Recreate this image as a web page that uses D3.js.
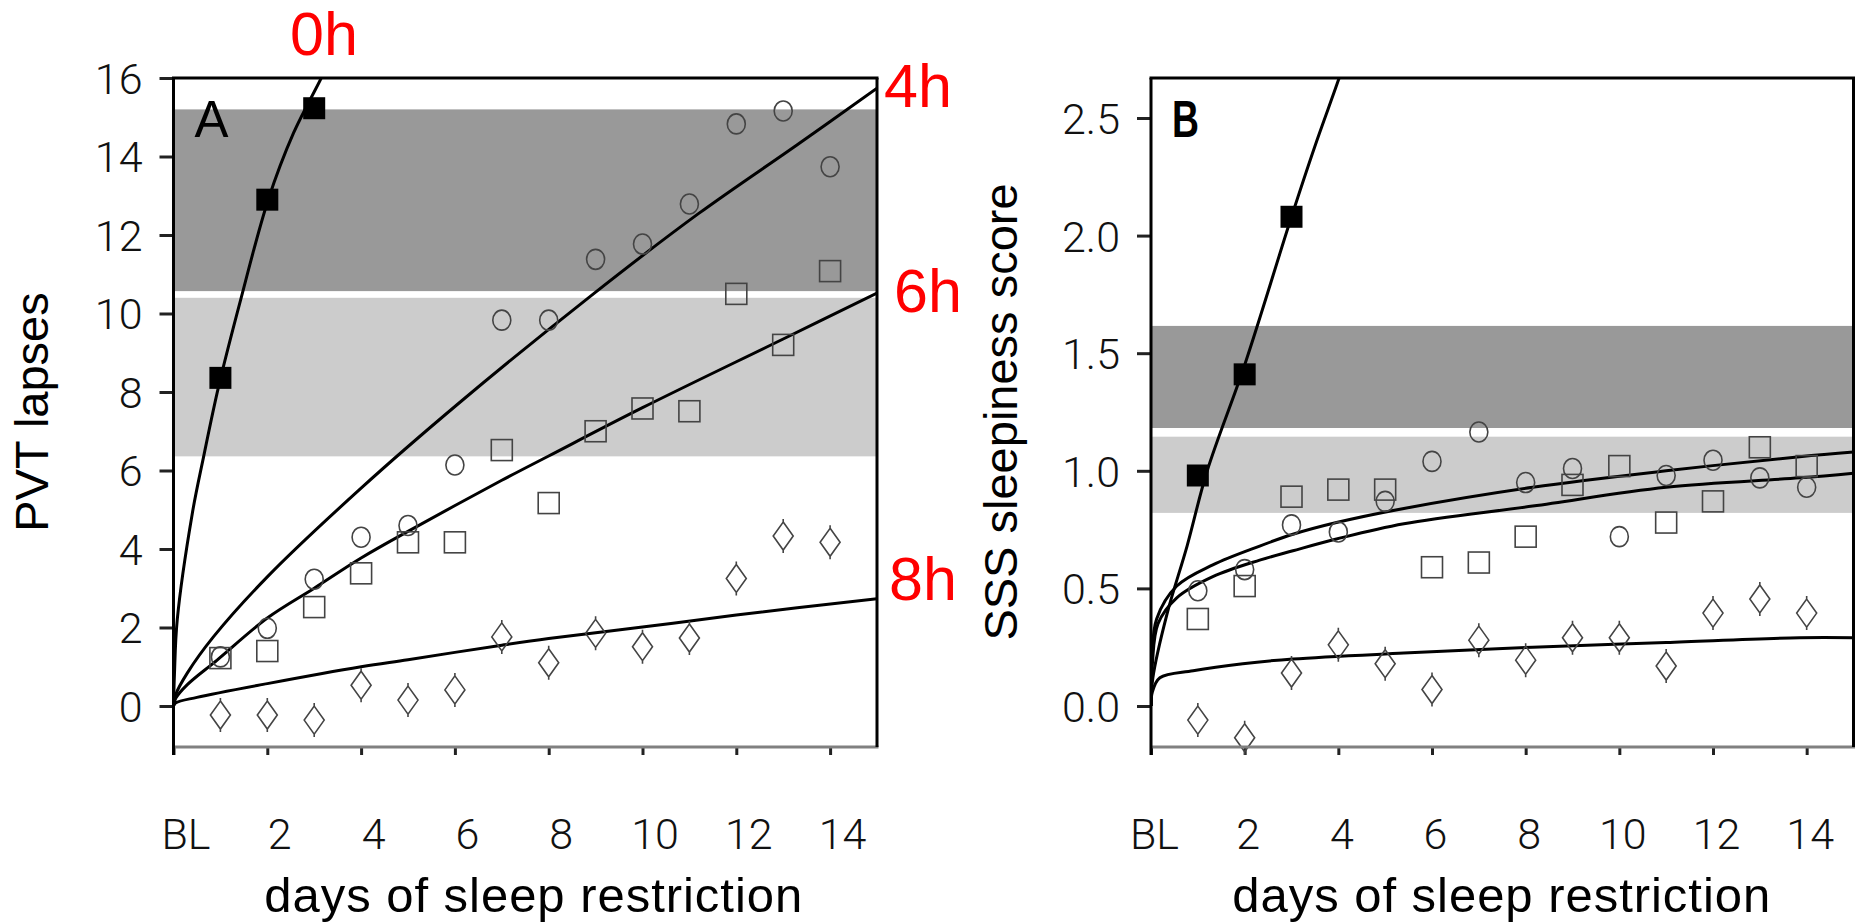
<!doctype html>
<html>
<head>
<meta charset="utf-8">
<script src="https://cdn.jsdelivr.net/npm/d3@7"></script>
<style>
  body { margin: 0; background: #fff; }
  svg { display: block; }
  .tick text { font-family: Roboto, "Liberation Sans", sans-serif; font-weight: 300; font-size: 43px; fill: #111; }
  .tick line { stroke: #222; stroke-width: 3px; }
  .title { font-family: "Liberation Sans", Arial, sans-serif; fill: #000; }
  .fit { fill: none; stroke: #000; stroke-width: 3px; }
  .mark { fill: none; stroke: #444; stroke-width: 1.6px; }
  .hours { font-family: "Liberation Sans", Arial, sans-serif; font-size: 61px; fill: #ff0000; }
</style>
</head>
<body>
<svg id="chart" width="1857" height="922"></svg>
<script>
// ---- data ----
var days = [1, 2, 3, 4, 5, 6, 7, 8, 9, 10, 11, 12, 13, 14];
var dayTicks = [0, 2, 4, 6, 8, 10, 12, 14];
var dayLabels = ["BL", "2", "4", "6", "8", "10", "12", "14"];
var pvtTicks = [0, 2, 4, 6, 8, 10, 12, 14, 16];
var sssTicks = [0, 0.5, 1, 1.5, 2, 2.5];

// A: PVT lapses
var pvt0h = [8.36, 12.9, 15.23];
var pvt4h = [1.25, 1.98, 3.23, 4.3, 4.6, 6.14, 9.83, 9.83, 11.38, 11.77, 12.79, 14.83, 15.16, 13.74];
var pvt6h = [1.22, 1.4, 2.52, 3.38, 4.17, 4.17, 6.52, 5.17, 7.0, 7.58, 7.51, 10.5, 9.2, 11.08];
var pvt8h = [-0.23, -0.23, -0.36, 0.53, 0.15, 0.41, 1.76, 1.1, 1.85, 1.51, 1.73, 3.25, 4.33, 4.17];

// B: SSS sleepiness
var sss0h = [0.98, 1.41, 2.08];
var sss4h = [0.49, 0.58, 0.77, 0.74, 0.87, 1.04, 1.165, 0.95, 1.01, 0.72, 0.98, 1.045, 0.97, 0.93];
var sss6h = [0.37, 0.51, 0.89, 0.92, 0.92, 0.59, 0.61, 0.72, 0.94, 1.02, 0.78, 0.87, 1.1, 1.02];
var sss8h = [-0.06, -0.135, 0.14, 0.26, 0.18, 0.07, 0.28, 0.195, 0.29, 0.29, 0.17, 0.395, 0.455, 0.395];

// shaded ranges [low, high]
var pvtBands = [[6.36, 10.4], [10.57, 15.2]];
var sssBands = [[0.821, 1.145], [1.182, 1.616]];
var bandFill = ["#cccccc", "#999999"];

// fitted curves, [day, value]
var pvtFit0h = [[0,0],[0.02,0.8],[0.08,2.2],[0.4,4.9],[0.64,6.34],[0.96,8.13],[1.43,10.34],[2.02,12.9],[2.56,14.6],[3.15,16],[3.3,16.4]];
var pvtFit4h = [[0,0],[0.05,0.3],[0.3,0.85],[0.85,1.76],[2,3.29],[4,5.55],[6.07,7.7],[8.9,10.45],[11.2,12.55],[13.3,14.3],[15,15.74]];
var pvtFit6h = [[0,0],[0.05,0.2],[0.3,0.55],[0.93,1.17],[2,2.24],[3,3.0],[4,3.77],[5,4.45],[7,5.75],[8,6.37],[10,7.6],[13,9.35],[15,10.52]];
var pvtFit8h = [[0,0],[0.05,0.08],[0.5,0.22],[2,0.57],[4,1.0],[5,1.18],[7,1.55],[8,1.72],[10,2.01],[12,2.32],[15,2.73]];

var sssFit0h = [[0,0],[0.04,0.12],[0.34,0.39],[0.77,0.68],[1.2,1.0],[2,1.45],[3,2.08],[3.5,2.38],[4,2.66],[4.2,2.78]];
var sssFit4h = [[0,0],[0.02,0.2],[0.12,0.37],[0.55,0.51],[1.32,0.6],[2.32,0.68],[3.03,0.73],[3.96,0.78],[5.4,0.84],[8.15,0.93],[11,1.0],[13.85,1.06],[15,1.08]];
var sssFit6h = [[0,0],[0.03,0.18],[0.15,0.35],[0.55,0.46],[1.32,0.55],[2.32,0.62],[3.03,0.66],[3.96,0.71],[5.4,0.775],[8.15,0.85],[11,0.93],[13.85,0.97],[15,0.99]];
var sssFit8h = [[0,0],[0.03,0.06],[0.19,0.12],[0.9,0.15],[1.96,0.18],[3.03,0.2],[5.4,0.225],[8.15,0.25],[11,0.27],[13.85,0.29],[15,0.29]];

var svg = d3.select("#chart");

function drawPanel(p) {
    var x = d3.scaleLinear().domain([0, 15]).range([p.left, p.right]);
    var y = d3.scaleLinear().domain(p.ydom).range([747, 78]);
    var g = svg.append("g");

    g.append("clipPath").attr("id", p.id + "clip")
     .append("rect")
     .attr("x", p.left).attr("y", 78)
     .attr("width", p.right - p.left).attr("height", 747 - 78);

    // bands
    g.selectAll(".band").data(p.bands).enter().append("rect")
     .attr("x", p.left)
     .attr("width", p.right - p.left)
     .attr("y", function(d) { return y(d[1]); })
     .attr("height", function(d) { return y(d[0]) - y(d[1]); })
     .attr("fill", function(d, i) { return bandFill[i]; });

    // axes
    var ya = g.append("g")
        .attr("transform", "translate(" + p.left + ",0)")
        .call(d3.axisLeft(y).tickValues(p.yticks).tickSize(14).tickPadding(17).tickFormat(p.yfmt));
    ya.select(".domain").remove();
    ya.selectAll(".tick text").attr("dy", "0.36em");

    var xa = g.append("g")
        .attr("transform", "translate(0,747)")
        .call(d3.axisBottom(x).tickValues(dayTicks).tickSize(8).tickPadding(63)
              .tickFormat(function(d, i) { return dayLabels[i]; }));
    xa.select(".domain").remove();
    xa.selectAll(".tick text").attr("dx", p.labelDx);

    // fitted curves
    var line = d3.line()
        .x(function(d) { return x(d[0]); })
        .y(function(d) { return y(d[1]); })
        .curve(d3.curveCatmullRom.alpha(0.5));
    g.append("g").attr("clip-path", "url(#" + p.id + "clip)")
     .selectAll("path").data(p.fits).enter().append("path")
     .attr("class", "fit")
     .attr("d", line);

    // diamonds (8h)
    g.selectAll(".dia").data(p.s8).enter().append("path")
     .attr("class", "mark")
     .attr("transform", function(d, i) { return "translate(" + x(days[i]) + "," + y(d) + ")"; })
     .attr("d", "M0,-14L10,0L0,14L-10,0Z M0,-17V-14 M0,14V17");

    // open squares (6h)
    g.selectAll(".sq").data(p.s6).enter().append("rect")
     .attr("class", "mark")
     .attr("x", function(d, i) { return x(days[i]) - 10.5; })
     .attr("y", function(d) { return y(d) - 10.5; })
     .attr("width", 21).attr("height", 21);

    // circles (4h)
    g.selectAll(".ci").data(p.s4).enter().append("ellipse")
     .attr("class", "mark")
     .attr("cx", function(d, i) { return x(days[i]); })
     .attr("cy", function(d) { return y(d); })
     .attr("rx", 9).attr("ry", 10);

    // filled squares (0h)
    g.selectAll(".fsq").data(p.s0).enter().append("rect")
     .attr("x", function(d, i) { return x(days[i]) - 11; })
     .attr("y", function(d) { return y(d) - 11; })
     .attr("width", 22).attr("height", 22)
     .attr("fill", "#000");

    // frame
    g.append("line").attr("x1", p.left).attr("x2", p.right + 1.5).attr("y1", 747).attr("y2", 747)
     .attr("stroke", "#808080").attr("stroke-width", 3);
    g.append("line").attr("x1", p.left).attr("x2", p.left).attr("y1", 78).attr("y2", 755)
     .attr("stroke", "#000").attr("stroke-width", 3);
    g.append("line").attr("x1", p.left - 1.5).attr("x2", p.right + 1.5).attr("y1", 78).attr("y2", 78)
     .attr("stroke", "#000").attr("stroke-width", 3);
    g.append("line").attr("x1", p.right).attr("x2", p.right).attr("y1", 78).attr("y2", 747)
     .attr("stroke", "#000").attr("stroke-width", 3);

    // panel letter
    g.append("text").attr("class", "title")
     .attr("x", p.left + 21).attr("y", 137)
     .attr("font-size", "51px")
     .attr("font-weight", p.letterWeight)
     .attr("textLength", p.letterLen).attr("lengthAdjust", "spacingAndGlyphs")
     .text(p.letter);

    // axis titles
    g.append("text").attr("class", "title")
     .attr("transform", "translate(" + p.ytitleX + ",412) rotate(-90)")
     .attr("text-anchor", "middle")
     .attr("font-size", "47px")
     .text(p.ytitle);

    g.append("text").attr("class", "title")
     .attr("x", (p.left + p.right) / 2 + p.xtitleDx).attr("y", 912)
     .attr("text-anchor", "middle")
     .attr("font-size", "49px")
     .attr("textLength", 538).attr("lengthAdjust", "spacing")
     .text("days of sleep restriction");

    return { x: x, y: y };
}

var a = drawPanel({
    id: "A", left: 173.5, right: 877, ydom: [-1.045, 16],
    yticks: pvtTicks, yfmt: d3.format("d"), labelDx: 12,
    bands: pvtBands,
    fits: [pvtFit0h, pvtFit4h, pvtFit6h, pvtFit8h],
    s0: pvt0h, s4: pvt4h, s6: pvt6h, s8: pvt8h,
    letter: "A", letterWeight: "normal", letterLen: 34,
    ytitle: "PVT lapses", ytitleX: 48, xtitleDx: 8
});

drawPanel({
    id: "B", left: 1151, right: 1853.5, ydom: [-0.1743, 2.670],
    yticks: sssTicks, yfmt: d3.format(".1f"), labelDx: 3,
    bands: sssBands,
    fits: [sssFit0h, sssFit4h, sssFit6h, sssFit8h],
    s0: sss0h, s4: sss4h, s6: sss6h, s8: sss8h,
    letter: "B", letterWeight: "bold", letterLen: 27,
    ytitle: "SSS sleepiness score", ytitleX: 1017, xtitleDx: -1
});

// sleep-dose labels on panel A
var hourLabels = ["0h", "4h", "6h", "8h"];
var hourPos = [[290, 55], [884, 107], [894, 312], [889, 600]];
svg.selectAll(".hours").data(hourLabels).enter().append("text")
   .attr("class", "hours")
   .attr("x", function(d, i) { return hourPos[i][0]; })
   .attr("y", function(d, i) { return hourPos[i][1]; })
   .text(function(d) { return d; });
</script>
</body>
</html>
